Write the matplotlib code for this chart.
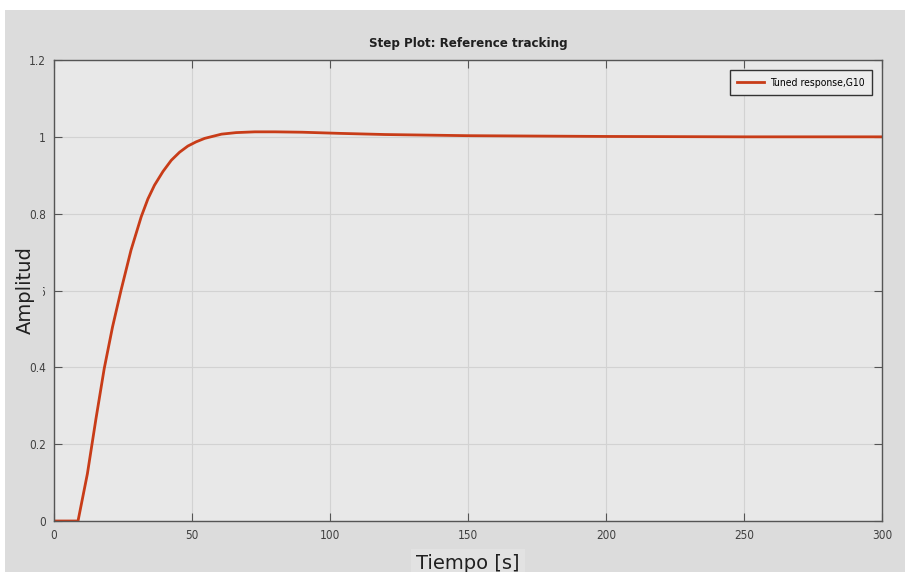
import matplotlib.pyplot as plt
from matplotlib.patches import Rectangle

# Step response samples (time in s, amplitude)
time_s = [0, 8.7, 12.1, 15.2, 18.2, 21.2, 24.3, 27.9, 31.6, 34.0, 36.4, 39.5,
          42.5, 45.5, 48.5, 51.5, 54.6, 60.7, 66.0, 72.8, 80.0, 90.0, 103.6,
          120, 150, 200, 250, 300]
amplitude = [0, 0, 0.123, 0.266, 0.397, 0.505, 0.601, 0.705, 0.792, 0.838,
             0.874, 0.910, 0.939, 0.960, 0.976, 0.987, 0.996, 1.007, 1.011,
             1.013, 1.013, 1.012, 1.009, 1.006, 1.003, 1.001, 1.0, 1.0]
x_ticks = [0, 50, 100, 150, 200, 250, 300]
y_ticks = [0, 0.2, 0.4, 0.6, 0.8, 1.0, 1.2]
y_tick_labels = ['0', '0.2', '0.4', '0.6', '0.8', '1', '1.2']

narrow = dict(family='DejaVu Sans', stretch='condensed')

fig = plt.figure(figsize=(9.1, 5.72), dpi=100, facecolor='white')
fig.patches.append(Rectangle((5 / 910, 0), 900 / 910, 562 / 572,
                             transform=fig.transFigure, facecolor='#dcdcdc',
                             edgecolor='none', zorder=-10))

ax = fig.add_axes([54 / 910, 51 / 572, 828 / 910, 461 / 572])
ax.set_facecolor('#e8e8e8')

ax.plot(time_s, amplitude, color='#c83c18', linewidth=2.0,
        label='Tuned response,G10')

ax.set_xlim(0, 300)
ax.set_ylim(0, 1.2)
ax.set_xticks(x_ticks)
ax.set_xticklabels([str(t) for t in x_ticks], fontsize=8.5, color='#404040', **narrow)
ax.set_yticks(y_ticks)
ax.set_yticklabels(y_tick_labels, fontsize=8.5, color='#404040', **narrow)
ax.tick_params(direction='in', length=6, width=0.8, color='#555555',
               top=True, right=True, pad=6)
ax.grid(True, color='#d2d2d2', linewidth=0.8)
for spine in ax.spines.values():
    spine.set_color('#555555')
    spine.set_linewidth(1.0)

ax.set_title('Step Plot: Reference tracking', fontsize=9.5, fontweight='bold',
             color='#202020', pad=9, **narrow)
ax.set_xlabel('Tiempo [s]', fontsize=14, color='#202020', labelpad=8.5,
              bbox=dict(facecolor='#e2e2e2', edgecolor='none', pad=4))
ax.set_ylabel('Amplitud', fontsize=14, color='#202020', labelpad=-4,
              bbox=dict(facecolor='#dcdcdc', edgecolor='none', pad=6))

leg = ax.legend(loc='upper right', prop={'size': 7.5, **narrow},
                frameon=True, fancybox=False, handlelength=2.6,
                handletextpad=0.5, borderaxespad=1.0, borderpad=0.7,
                framealpha=1)
leg.get_frame().set_edgecolor('#333333')
leg.get_frame().set_facecolor('#ececec')
leg.get_frame().set_linewidth(1.0)

fig.savefig('out.png', dpi=100, facecolor=fig.get_facecolor())
